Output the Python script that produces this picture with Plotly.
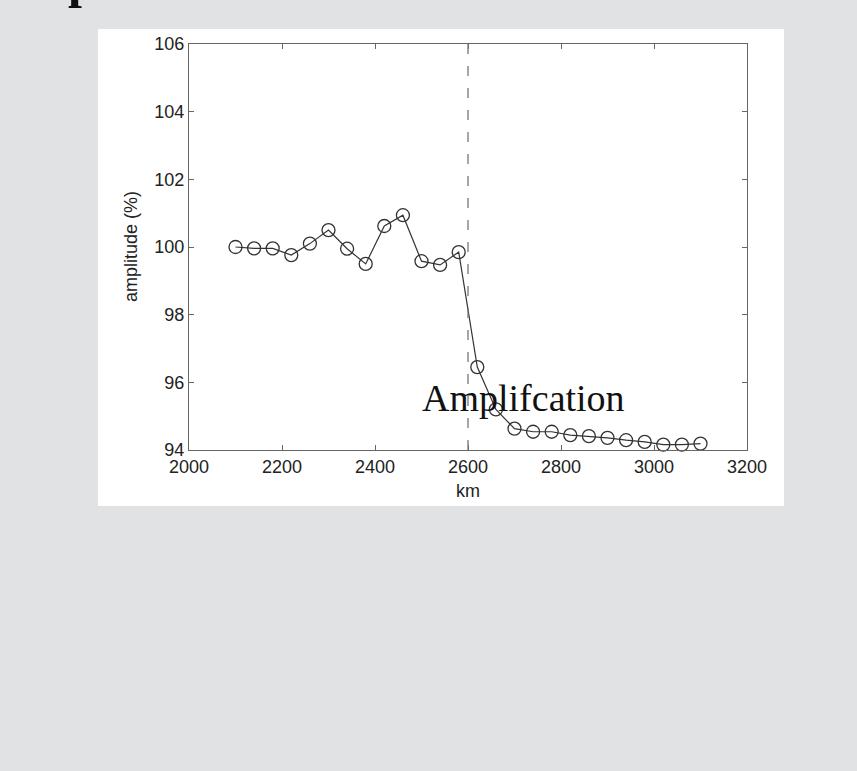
import plotly.graph_objects as go

# Distance along profile (km) and relative amplitude (%)
km = [2100, 2140, 2180, 2220, 2260, 2300, 2340, 2380, 2420, 2460, 2500, 2540, 2580,
      2620, 2660, 2700, 2740, 2780, 2820, 2860, 2900, 2940, 2980, 3020, 3060, 3100]
amplitude = [100.00, 99.96, 99.96, 99.76, 100.10, 100.50, 99.95, 99.50, 100.62, 100.94,
             99.58, 99.47, 99.85,
             96.45, 95.20, 94.63, 94.54, 94.54, 94.44, 94.41, 94.36, 94.29, 94.24,
             94.16, 94.16, 94.19]
boundary_km = 2600
x_ticks = [2000, 2200, 2400, 2600, 2800, 3000, 3200]
y_ticks = [94, 96, 98, 100, 102, 104, 106]

W, H = 857, 771
L, R, T, B = 189, 747, 44, 450
pw, ph = R - L, B - T

def px_x(p):
    return (p - L) / pw

def px_y(p):
    return (B - p) / ph

axis_font = dict(family="Liberation Sans, Arial, sans-serif", size=18, color="#222222")

fig = go.Figure()

fig.add_trace(go.Scatter(
    x=km, y=amplitude, mode="lines+markers",
    line=dict(color="#333333", width=1.2),
    marker=dict(symbol="circle-open", size=13, color="#333333", line=dict(width=1.3)),
    showlegend=False, cliponaxis=False,
))

# boundary marker
fig.add_shape(type="line", xref="x", yref="y", x0=boundary_km, x1=boundary_km,
              y0=94, y1=106, line=dict(color="#777777", width=1.3, dash="10px,12px"))

# white page panel behind the plot
fig.add_shape(type="rect", xref="paper", yref="paper", layer="below",
              x0=px_x(98), x1=px_x(784), y0=px_y(506), y1=px_y(29),
              fillcolor="white", line=dict(width=0))

axis_common = dict(
    showgrid=False, zeroline=False, showline=True, mirror="ticks",
    linecolor="#666666", linewidth=1.3, ticks="inside", ticklen=5,
    tickcolor="#666666", tickwidth=1, tickfont=axis_font,
)

fig.update_xaxes(range=[2000, 3200], tickvals=x_ticks, **axis_common)
fig.update_yaxes(range=[94, 106], tickvals=y_ticks, **axis_common)

fig.add_annotation(text="km", xref="paper", yref="paper", x=0.5, y=px_y(491),
                   yanchor="middle", showarrow=False, font=axis_font)
fig.add_annotation(text="amplitude (%)", xref="paper", yref="paper", x=px_x(131),
                   y=0.5, textangle=-90, xanchor="center", showarrow=False,
                   font=axis_font)
fig.add_annotation(text="Amplifcation", xref="paper", yref="paper", x=px_x(420),
                   y=px_y(398), xanchor="left", yanchor="middle", showarrow=False,
                   font=dict(family="Liberation Serif, Times New Roman, serif", size=38,
                             color="#111111"))
# heading text running off the top of the page
fig.add_annotation(text="<b>p</b>", xref="paper", yref="paper", x=px_x(82),
                   y=px_y(-20), xanchor="center", yanchor="middle", showarrow=False,
                   font=dict(family="Liberation Serif, serif", size=50, color="#111111"))

fig.update_layout(
    width=W, height=H,
    margin=dict(l=L, r=W - R, t=T, b=H - B),
    paper_bgcolor="#e1e2e4", plot_bgcolor="white",
)

fig.write_html("out.html")
